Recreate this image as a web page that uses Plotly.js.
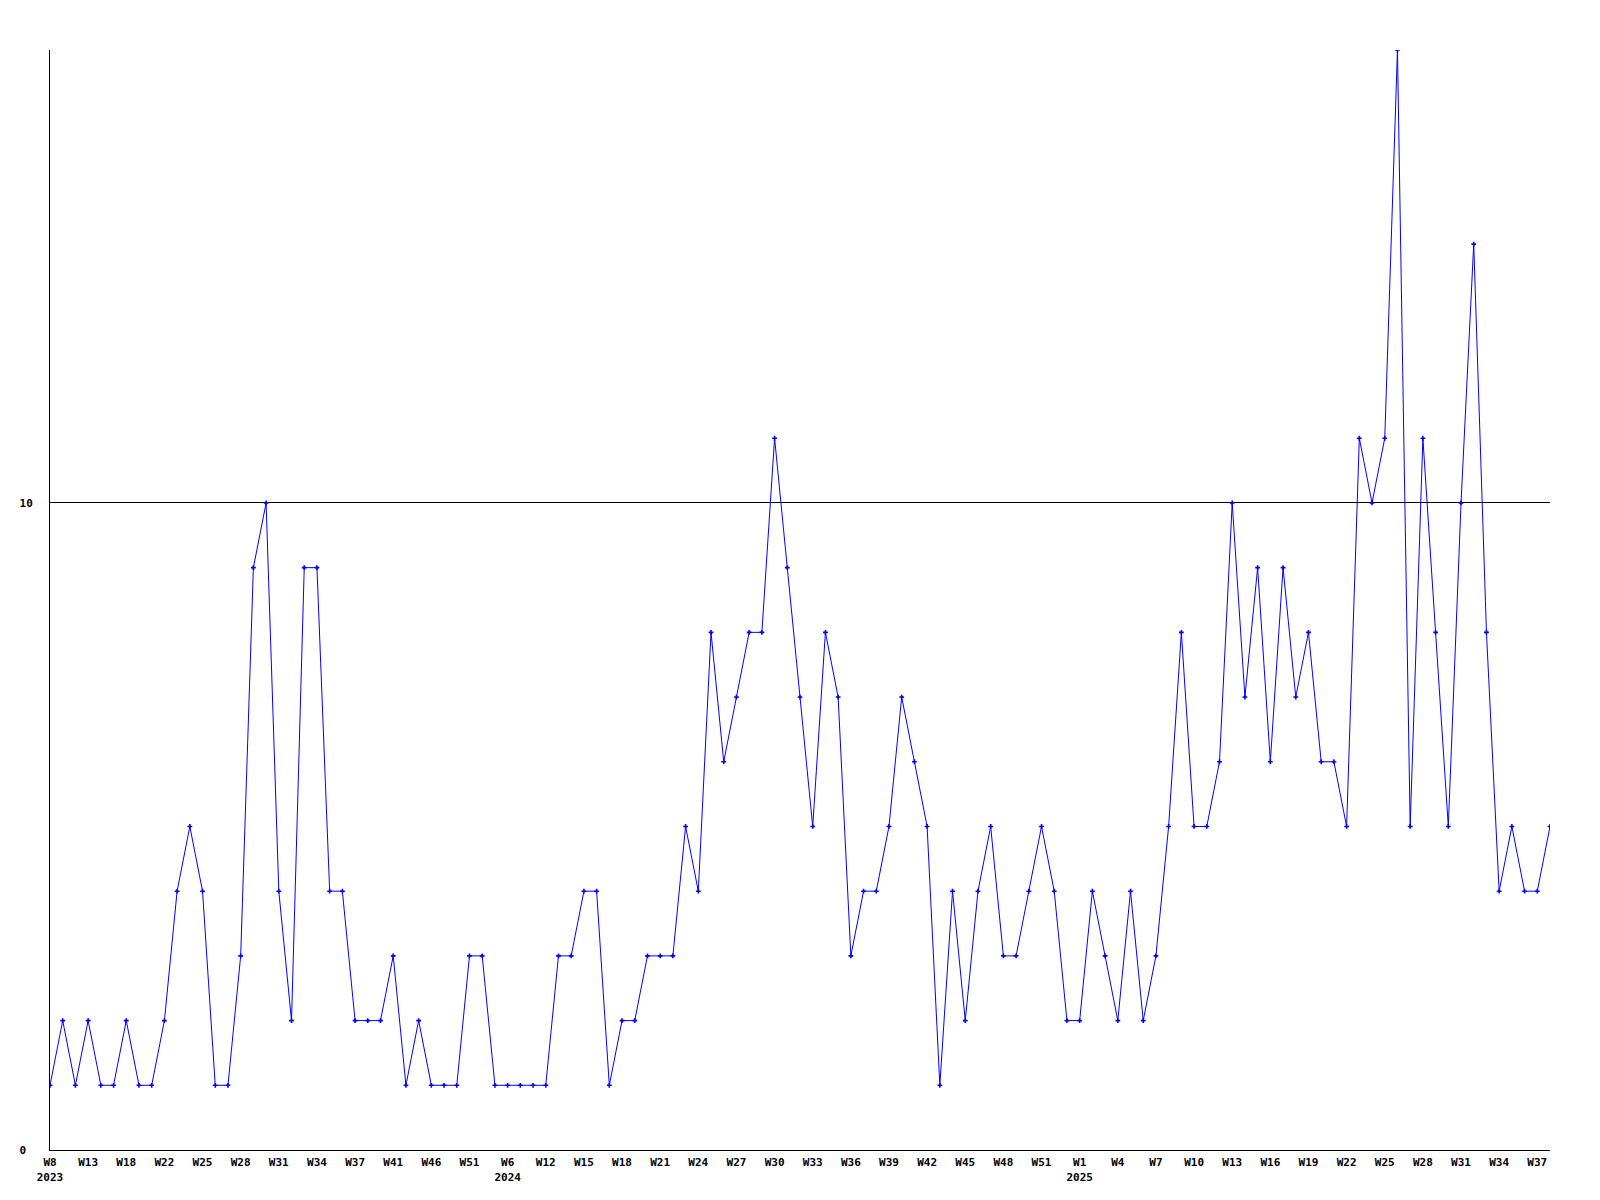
<!DOCTYPE html>
<html>
<head>
<meta charset="utf-8">
<script src="https://cdn.plot.ly/plotly-3.0.1.min.js"></script>
<style>
html, body { margin: 0; padding: 0; background: #ffffff; }
#chart { width: 1600px; height: 1200px; }
</style>
</head>
<body>
<div id="chart"></div>
<script>
var weekLabels = [
  "2023-W08","2023-W09","2023-W11","2023-W13","2023-W15","2023-W16","2023-W18","2023-W19","2023-W21","2023-W22",
  "2023-W23","2023-W24","2023-W25","2023-W26","2023-W27","2023-W28","2023-W29","2023-W30","2023-W31","2023-W32",
  "2023-W33","2023-W34","2023-W35","2023-W36","2023-W37","2023-W38","2023-W40","2023-W41","2023-W43","2023-W44",
  "2023-W46","2023-W48","2023-W49","2023-W51","2023-W52","2024-W03","2024-W06","2024-W08","2024-W10","2024-W12",
  "2024-W13","2024-W14","2024-W15","2024-W16","2024-W17","2024-W18","2024-W19","2024-W20","2024-W21","2024-W22",
  "2024-W23","2024-W24","2024-W25","2024-W26","2024-W27","2024-W28","2024-W29","2024-W30","2024-W31","2024-W32",
  "2024-W33","2024-W34","2024-W35","2024-W36","2024-W37","2024-W38","2024-W39","2024-W40","2024-W41","2024-W42",
  "2024-W43","2024-W44","2024-W45","2024-W46","2024-W47","2024-W48","2024-W49","2024-W50","2024-W51","2024-W52",
  "2024-W53","2025-W01","2025-W02","2025-W03","2025-W04","2025-W05","2025-W06","2025-W07","2025-W08","2025-W09",
  "2025-W10","2025-W11","2025-W12","2025-W13","2025-W14","2025-W15","2025-W16","2025-W17","2025-W18","2025-W19",
  "2025-W20","2025-W21","2025-W22","2025-W23","2025-W24","2025-W25","2025-W26","2025-W27","2025-W28","2025-W29",
  "2025-W30","2025-W31","2025-W32","2025-W33","2025-W34","2025-W35","2025-W36","2025-W37","2025-W38"
];

var counts = [
  1,2,1,2,1,1,2,1,1,2,
  4,5,4,1,1,3,9,10,4,2,
  9,9,4,4,2,2,2,3,1,2,
  1,1,1,3,3,1,1,1,1,1,
  3,3,4,4,1,2,2,3,3,3,
  5,4,8,6,7,8,8,11,9,7,
  5,8,7,3,4,4,5,7,6,5,
  1,4,2,4,5,3,3,4,5,4,
  2,2,4,3,2,4,2,3,5,8,
  5,5,6,10,7,9,6,9,7,8,
  6,6,5,11,10,11,17,5,11,8,
  5,10,14,8,4,5,4,4,5
];

var yTickValues = [0, 10];
var yTickText = ["0\u00a0", "10"];
var labelEvery = 3;

// Build x tick labels from the week list: every third week, with the year on the first tick of each year
var tickVals = [];
var tickText = [];
var lastYear = null;
for (var i = 0; i < weekLabels.length; i += labelEvery) {
  var parts = weekLabels[i].split("-W");
  var yr = parts[0];
  var wk = "W" + parseInt(parts[1], 10);
  tickVals.push(weekLabels[i]);
  tickText.push(yr !== lastYear ? wk + "<br>" + yr : wk);
  lastYear = yr;
}

var trace = {
  type: "scatter",
  mode: "lines+markers",
  x: weekLabels,
  y: counts,
  line: { color: "#0000ff", width: 1 },
  marker: { symbol: "cross", size: 4, color: "#0000ff", line: { width: 0 } },
  hoverinfo: "x+y",
  showlegend: false
};

var fontFam = "'DejaVu Sans Mono', 'Liberation Mono', monospace";

var layout = {
  width: 1600,
  height: 1200,
  paper_bgcolor: "#ffffff",
  plot_bgcolor: "#ffffff",
  margin: { l: 50, r: 50, t: 50, b: 50, pad: 0 },
  showlegend: false,
  xaxis: {
    type: "category",
    range: [0, weekLabels.length - 1],
    tickmode: "array",
    tickvals: tickVals,
    ticktext: tickText,
    tickangle: 0,
    ticks: "",
    showgrid: false,
    zeroline: false,
    showline: true,
    linecolor: "#000000",
    linewidth: 1,
    ticklabelstandoff: 2,
    tickfont: { family: fontFam, size: 11, color: "#000000", weight: "bold" },
    fixedrange: true
  },
  yaxis: {
    range: [0, 17],
    tickmode: "array",
    tickvals: yTickValues,
    ticktext: yTickText,
    ticks: "",
    showgrid: true,
    gridcolor: "#000000",
    gridwidth: 1,
    zeroline: false,
    showline: true,
    linecolor: "#000000",
    linewidth: 1,
    ticklabelstandoff: 14,
    tickfont: { family: fontFam, size: 11, color: "#000000", weight: "bold" },
    fixedrange: true
  }
};

Plotly.newPlot("chart", [trace], layout, { displayModeBar: false, staticPlot: true });
</script>
</body>
</html>
